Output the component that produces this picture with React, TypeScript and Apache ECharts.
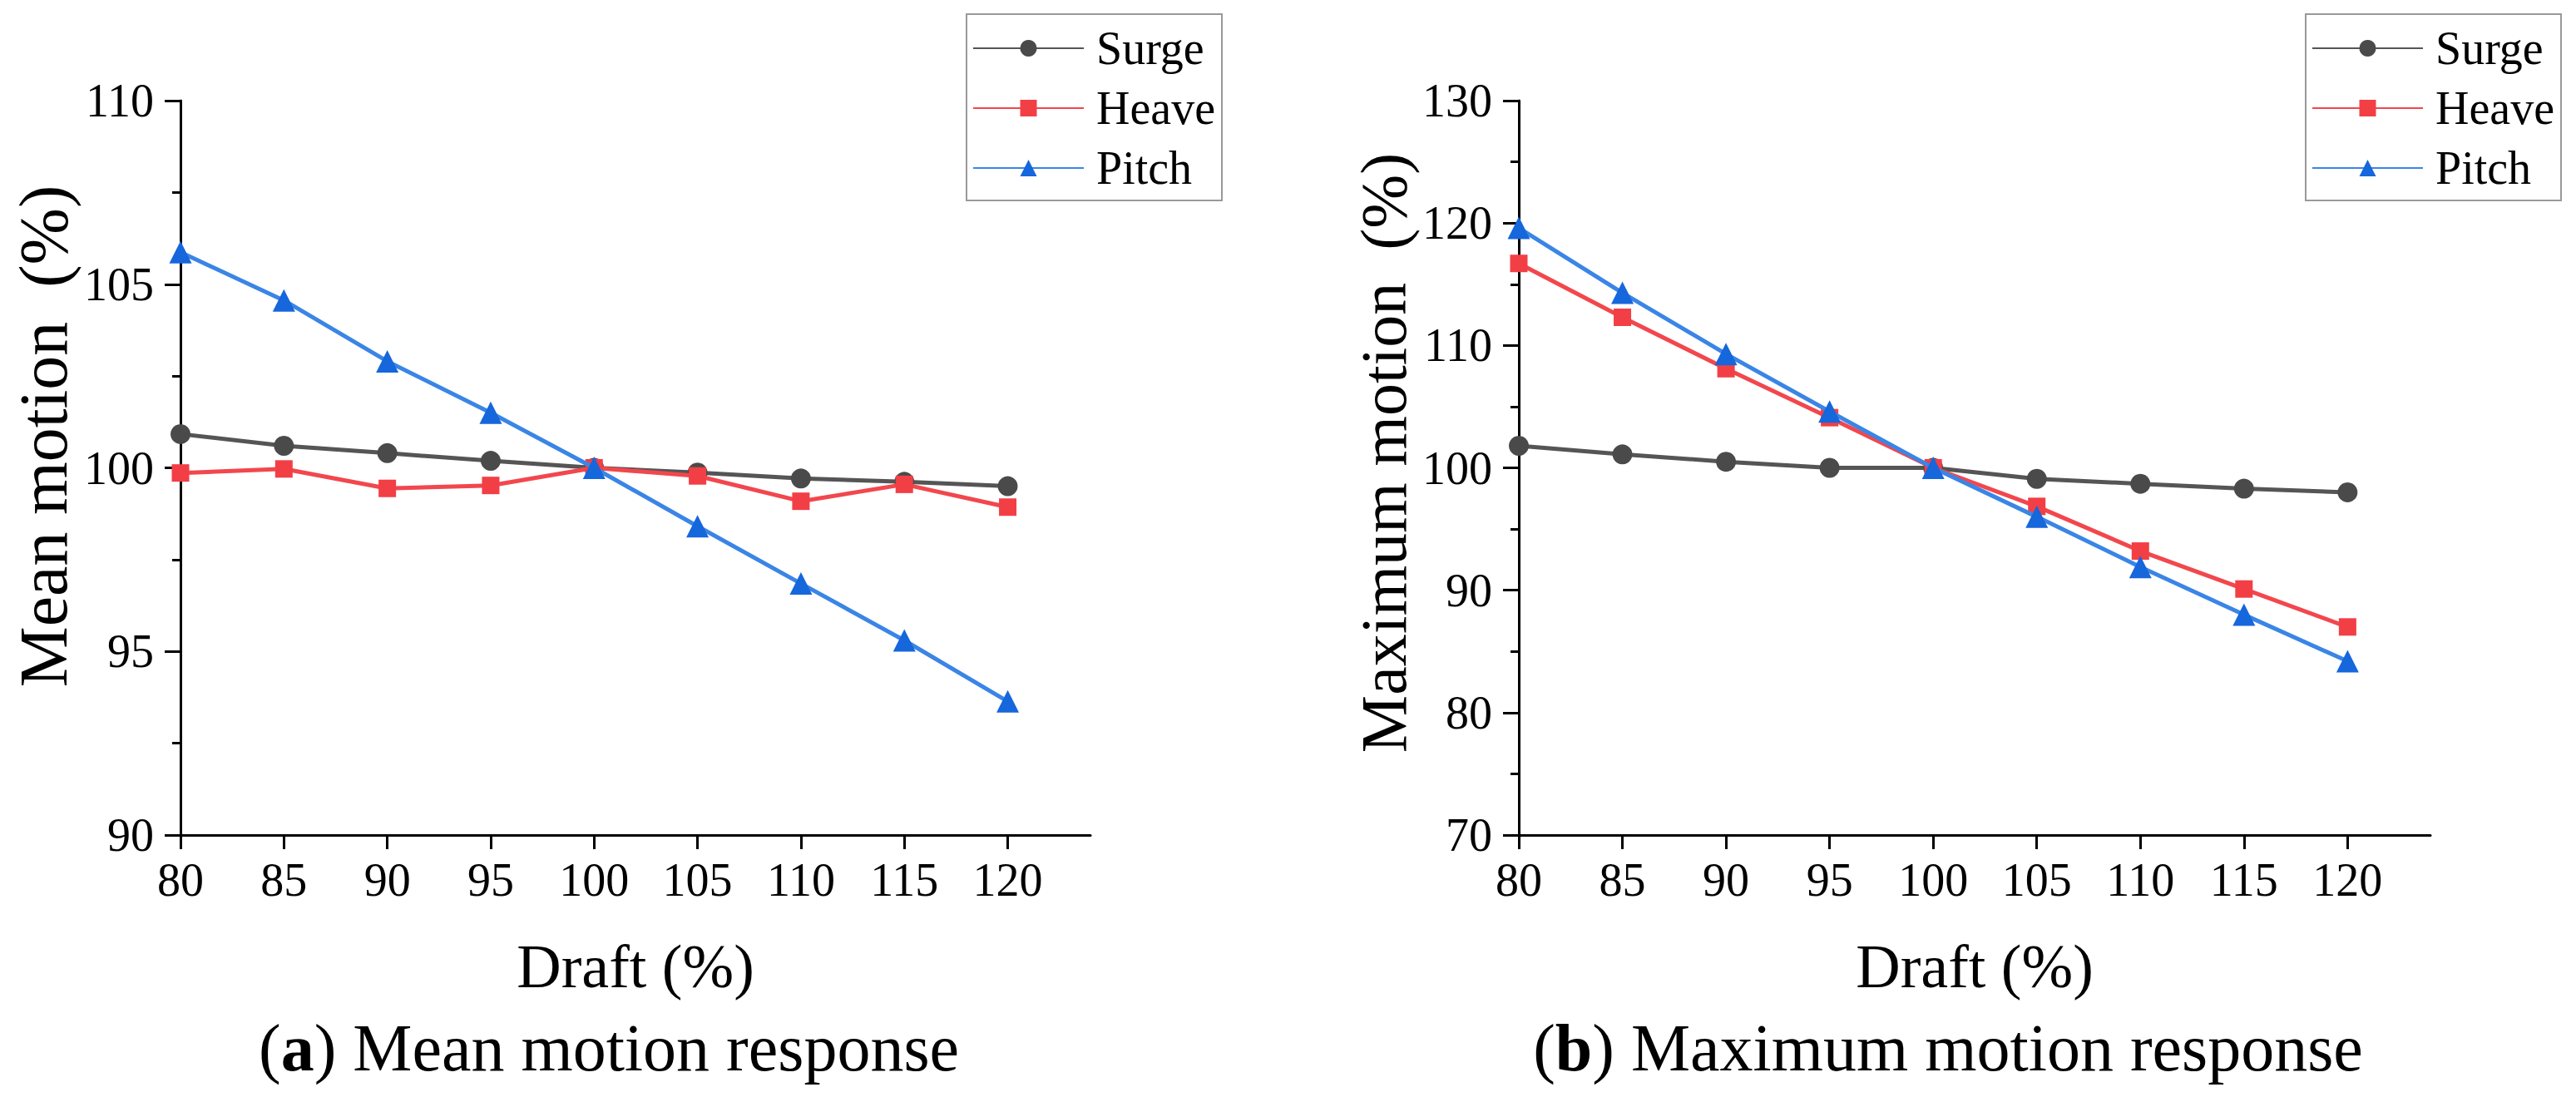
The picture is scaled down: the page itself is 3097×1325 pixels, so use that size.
import React, { useEffect, useRef } from 'react';
import * as echarts from 'echarts';

// Draft values shared by both panels
const drafts = [80, 85, 90, 95, 100, 105, 110, 115, 120];
const xTicks = [80, 85, 90, 95, 100, 105, 110, 115, 120];

// (a) mean motion response (%)
const meanSurge = [100.92, 100.6, 100.4, 100.19, 100, 99.87, 99.71, 99.62, 99.5];
const meanHeave = [99.86, 99.97, 99.44, 99.52, 100, 99.78, 99.09, 99.55, 98.93];
const meanPitch = [105.87, 104.56, 102.9, 101.5, 100, 98.41, 96.85, 95.3, 93.64];

// (b) maximum motion response (%)
const maxSurge = [101.8, 101.1, 100.5, 100, 100, 99.1, 98.7, 98.3, 98.0];
const maxHeave = [116.7, 112.3, 108.1, 104.1, 100, 96.85, 93.2, 90.1, 87.0];
const maxPitch = [119.6, 114.3, 109.3, 104.6, 100, 96.0, 91.9, 88.0, 84.2];

const seriesNames = ['Surge', 'Heave', 'Pitch'];

const FONT = 'Liberation Serif';

const styles = [
    { symbol: 'circle', symbolSize: 24, line: '#555555', fill: '#4a4a4a' },
    { symbol: 'rect', symbolSize: 21, line: '#f2474d', fill: '#f23f45' },
    { symbol: 'triangle', symbolSize: 27, line: '#3a85e6', fill: '#1666dc' }
];

const pairs = (ys: number[]) => drafts.map((x, i) => [x, ys[i]]);

const xAxisFor = (gridIndex: number) => ({
    type: 'value' as const,
    gridIndex,
    min: 80,
    max: 124,
    interval: 5,
    name: 'Draft (%)',
    nameLocation: 'middle' as const,
    nameGap: 121,
    nameTextStyle: { fontFamily: FONT, fontSize: 74, color: '#000' },
    axisLine: { lineStyle: { color: '#000', width: 3 } },
    axisTick: { customValues: xTicks, length: 17, lineStyle: { color: '#000', width: 3 } },
    axisLabel: { customValues: xTicks, margin: 26, fontFamily: FONT, fontSize: 56, color: '#000' },
    splitLine: { show: false }
});

const yAxisFor = (
    gridIndex: number,
    min: number,
    max: number,
    interval: number,
    name: string,
    nameSize: number,
    shift: number
) => ({
    type: 'value' as const,
    gridIndex,
    min,
    max,
    interval,
    name,
    nameLocation: 'middle' as const,
    nameRotate: 90,
    nameGap: 124,
    // left padding nudges the rotated title upward along the axis
    nameTextStyle: { fontFamily: FONT, fontSize: nameSize, color: '#000', padding: [0, 0, 0, shift] },
    axisLine: { show: true, lineStyle: { color: '#000', width: 3 } },
    axisTick: { length: 19, lineStyle: { color: '#000', width: 3 } },
    minorTick: { show: true, splitNumber: 2, length: 10, lineStyle: { color: '#000', width: 3 } },
    axisLabel: { margin: 32, fontFamily: FONT, fontSize: 56, color: '#000' },
    splitLine: { show: false }
});

const makeSeries = (name: string, idx: number, ys: number[], axisIndex: number) => ({
    name,
    type: 'line' as const,
    xAxisIndex: axisIndex,
    yAxisIndex: axisIndex,
    data: pairs(ys),
    symbol: styles[idx].symbol,
    symbolSize: styles[idx].symbolSize,
    lineStyle: { color: styles[idx].line, width: 5 },
    itemStyle: { color: styles[idx].fill },
    z: 3 + idx
});

const legendFor = (left: number) => ({
    data: seriesNames,
    orient: 'vertical' as const,
    left,
    top: 17,
    padding: [13, 8, 11, 7],
    itemGap: 16,
    itemWidth: 133,
    itemHeight: 25,
    borderColor: '#999',
    borderWidth: 2,
    selectedMode: false,
    textStyle: { fontFamily: FONT, fontSize: 56, color: '#000', padding: [0, 0, 0, 10] }
});

const captionRich = {
    n: { fontFamily: FONT, fontSize: 80, fill: '#000' },
    b: { fontFamily: FONT, fontSize: 80, fontWeight: 'bold', fill: '#000' }
};

const App: React.FC = () => {
    const chartRef = useRef<HTMLDivElement>(null);

    useEffect(() => {
        if (!chartRef.current) return;

        const chart = echarts.init(chartRef.current, null, { renderer: 'svg' });

        chart.setOption({
            animation: false,
            backgroundColor: '#fff',
            textStyle: { fontFamily: FONT },
            grid: [
                { left: 217, top: 121, width: 1094, height: 883 },
                { left: 1826, top: 121, width: 1096, height: 883 }
            ],
            xAxis: [xAxisFor(0), xAxisFor(1)],
            yAxis: [
                yAxisFor(0, 90, 110, 5, 'Mean motion  (%)', 82, 76),
                yAxisFor(1, 70, 130, 10, 'Maximum motion  (%)', 78, 36)
            ],
            legend: [legendFor(1162), legendFor(2772)],
            series: [
                makeSeries('Surge', 0, meanSurge, 0),
                makeSeries('Heave', 1, meanHeave, 0),
                makeSeries('Pitch', 2, meanPitch, 0),
                makeSeries('Surge', 0, maxSurge, 1),
                makeSeries('Heave', 1, maxHeave, 1),
                makeSeries('Pitch', 2, maxPitch, 1)
            ],
            graphic: [
                {
                    type: 'text',
                    x: 732,
                    y: 1260,
                    style: {
                        text: '{n|(}{b|a}{n|) Mean motion response}',
                        align: 'center',
                        verticalAlign: 'middle',
                        rich: captionRich
                    }
                },
                {
                    type: 'text',
                    x: 2342,
                    y: 1260,
                    style: {
                        text: '{n|(}{b|b}{n|) Maximum motion response}',
                        align: 'center',
                        verticalAlign: 'middle',
                        rich: captionRich
                    }
                }
            ]
        });

        const handleResize = () => {
            chart.resize();
        };
        window.addEventListener('resize', handleResize);

        return () => {
            window.removeEventListener('resize', handleResize);
            chart.dispose();
        };
    }, []);

    return (
        <div
            ref={chartRef}
            style={{ position: 'absolute', left: 0, top: 0, width: 3097, height: 1325 }}
        />
    );
};

export default App;
